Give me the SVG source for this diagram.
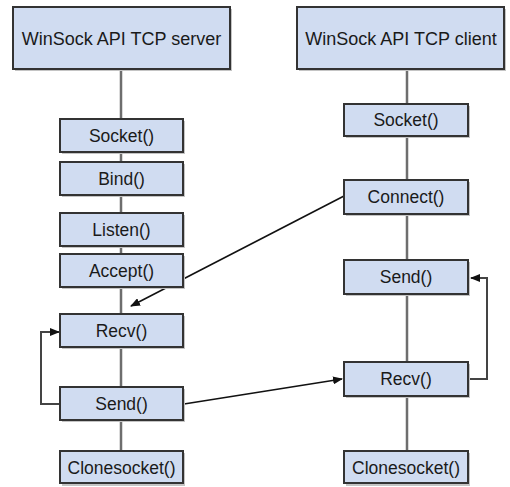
<svg xmlns="http://www.w3.org/2000/svg" width="510" height="487" viewBox="0 0 510 487">
<style>
.box{fill:#d0dcf1;stroke:#333;stroke-width:2}
.sh{fill:#c4c4c4}
.t{font-family:"Liberation Sans",Arial,sans-serif;font-size:17.5px;fill:#1a1a1a;text-anchor:middle}
.h{font-family:"Liberation Sans",Arial,sans-serif;font-size:18px;fill:#1a1a1a;text-anchor:middle}
.life{stroke:#6e6e6e;stroke-width:2.5;fill:none}
.arr{stroke:#111;stroke-width:1.6;fill:none;marker-end:url(#ah)}
.loop{stroke:#444;stroke-width:2;fill:none;marker-end:url(#ah)}
</style>
<defs>
<marker id="ah" markerWidth="10" markerHeight="8" refX="9" refY="4" orient="auto" markerUnits="userSpaceOnUse">
<path d="M0,0 L10,4 L0,8 Z" fill="#111"/>
</marker>
</defs>
<rect width="510" height="487" fill="#fff"/>
<g id="connectors">
<line class="life" x1="121" y1="69" x2="121" y2="452"/>
<line class="life" x1="407" y1="69" x2="407" y2="452" stroke-width="2"/>
<polyline class="loop" points="60,404 41,404 41,332 59,332"/>
<polyline class="loop" points="469,379 487,379 487,278 471,278"/>
<line class="arr" x1="344" y1="196" x2="131" y2="306"/>
<line class="arr" x1="184" y1="404" x2="342" y2="379"/>
</g>
<g id="server-header"><rect class="sh" x="15" y="9" width="217" height="62"/><rect class="box" x="13" y="7" width="217" height="62"/><text class="h" x="121.5" y="44.5">WinSock API TCP server</text></g>
<g id="client-header"><rect class="sh" x="299" y="9" width="207" height="62"/><rect class="box" x="297" y="7" width="207" height="62"/><text class="h" x="401" y="44.5">WinSock API TCP client</text></g>
<g id="s-socket"><rect class="sh" x="62" y="121" width="123" height="33"/><rect class="box" x="60" y="119" width="123" height="33"/><text class="t" x="121.5" y="142">Socket()</text></g>
<g id="s-bind"><rect class="sh" x="62" y="164" width="123" height="33"/><rect class="box" x="60" y="162" width="123" height="33"/><text class="t" x="121.5" y="185">Bind()</text></g>
<g id="s-listen"><rect class="sh" x="62" y="215" width="123" height="33"/><rect class="box" x="60" y="213" width="123" height="33"/><text class="t" x="121.5" y="236">Listen()</text></g>
<g id="s-accept"><rect class="sh" x="62" y="256" width="123" height="33"/><rect class="box" x="60" y="254" width="123" height="33"/><text class="t" x="121.5" y="277">Accept()</text></g>
<g id="s-recv"><rect class="sh" x="62" y="316" width="123" height="33"/><rect class="box" x="60" y="314" width="123" height="33"/><text class="t" x="121.5" y="337">Recv()</text></g>
<g id="s-send"><rect class="sh" x="62" y="389" width="123" height="33"/><rect class="box" x="60" y="387" width="123" height="33"/><text class="t" x="121.5" y="410">Send()</text></g>
<g id="s-close"><rect class="sh" x="62" y="453" width="123" height="33"/><rect class="box" x="60" y="451" width="123" height="32"/><text class="t" x="121.5" y="473.5">Clonesocket()</text></g>
<g id="c-socket"><rect class="sh" x="346" y="106" width="124" height="32"/><rect class="box" x="344" y="104" width="124" height="32"/><text class="t" x="406" y="126">Socket()</text></g>
<g id="c-connect"><rect class="sh" x="346" y="182" width="124" height="34"/><rect class="box" x="344" y="180" width="124" height="34"/><text class="t" x="406" y="203">Connect()</text></g>
<g id="c-send"><rect class="sh" x="346" y="262" width="124" height="34"/><rect class="box" x="344" y="260" width="124" height="34"/><text class="t" x="406" y="283">Send()</text></g>
<g id="c-recv"><rect class="sh" x="346" y="364" width="124" height="34"/><rect class="box" x="344" y="362" width="124" height="34"/><text class="t" x="406" y="385">Recv()</text></g>
<g id="c-close"><rect class="sh" x="346" y="453" width="124" height="33"/><rect class="box" x="344" y="451" width="124" height="32"/><text class="t" x="406" y="473.5">Clonesocket()</text></g>
</svg>
